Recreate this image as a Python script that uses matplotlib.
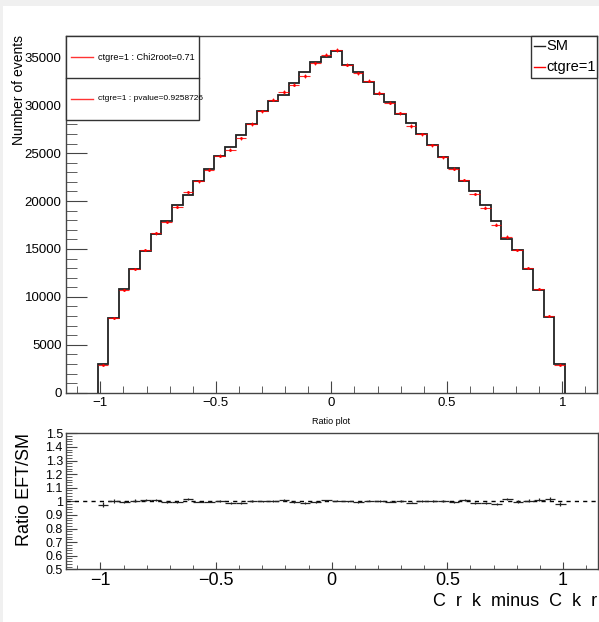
import numpy as np
import matplotlib
matplotlib.use("Agg")
import matplotlib.pyplot as plt
from matplotlib.ticker import MultipleLocator
from matplotlib.patches import Rectangle
from matplotlib.lines import Line2D

plt.rcParams['font.family'] = ['Liberation Sans', 'DejaVu Sans']

# histogram binning: 50 bins on [-1.15, 1.15], only bins 3..46 are filled
n_bins = 50
x_lo, x_hi = -1.15, 1.15
first_bin = 3

# SM counts per filled bin
sm = [3000, 7800, 10800, 12880, 14750, 16520, 17920, 19560, 20600, 22130,
      23320, 24670, 25610, 26900, 28050, 29350, 30480, 31080, 32300, 33450,
      34550, 35050, 35620, 34250, 33500, 32400, 31200, 30320, 29120, 28110,
      26950, 25820, 24560, 23470, 22050, 21000, 19560, 17950, 16020, 14900,
      12950, 10700, 7900, 3000]

# ratio EFT/SM per filled bin
ratio = [0.975, 1.002, 0.995, 1.005, 1.010, 1.007, 0.995, 0.993, 1.015, 0.998,
         0.998, 1.002, 0.990, 0.988, 1.000, 1.000, 1.003, 1.010, 0.995, 0.988,
         0.995, 1.007, 1.005, 1.000, 0.995, 1.005, 1.002, 0.998, 1.002, 0.990,
         1.000, 1.000, 1.000, 0.995, 1.007, 0.988, 0.988, 0.978, 1.017, 0.998,
         1.005, 1.012, 1.017, 0.980]

leg_left = ["ctgre=1 : Chi2root=0.71", "ctgre=1 : pvalue=0.9258726"]
leg_right = ["SM", "ctgre=1"]

sm = np.array(sm, dtype=float)
ratio = np.array(ratio)
eft = sm * ratio

all_edges = np.linspace(x_lo, x_hi, n_bins + 1)
edges = all_edges[first_bin:first_bin + len(sm) + 1]
centers = 0.5 * (edges[1:] + edges[:-1])
half_w = 0.5 * (edges[1] - edges[0])

W, H = 599, 622
fig = plt.figure(figsize=(W / 100, H / 100), dpi=100)
fig.patch.set_facecolor('#f0f0f0')
fig.patches.append(Rectangle((3 / W, 0), 1, (H - 6) / H, transform=fig.transFigure,
                             facecolor='white', edgecolor='none', zorder=-10))


def box(x0, y0, x1, y1):
    # pixel box (y from top) -> figure fraction rect
    return [x0 / W, 1 - y1 / H, (x1 - x0) / W, (y1 - y0) / H]


def fx(x):
    return x / W


def fy(y):
    return 1 - y / H


frame_col = '#444444'
fmt_g = lambda v, p: f"{v:g}".replace('-', '\u2212')

# ---------------- top panel ----------------
ax = fig.add_axes(box(65.7, 36, 597, 392.7))
ax.stairs(sm, edges, color='#222222', lw=1.3, baseline=0, zorder=3)
ax.errorbar(centers, eft, xerr=half_w, yerr=np.sqrt(eft), fmt='none',
            ecolor='red', elinewidth=0.8, alpha=0.85, zorder=4)
ax.plot(centers, eft, ls='none', marker='.', ms=2, color='red', zorder=4)
ax.set_xlim(x_lo, x_hi)
ax.set_ylim(0, 37230)
ax.xaxis.set_major_locator(MultipleLocator(0.5))
ax.xaxis.set_minor_locator(MultipleLocator(0.1))
ax.xaxis.set_major_formatter(fmt_g)
ax.yaxis.set_major_locator(MultipleLocator(5000))
ax.yaxis.set_minor_locator(MultipleLocator(1000))
ax.tick_params(which='both', direction='in', top=False, right=False,
               labelsize=9.5, color=frame_col, pad=3)
ax.tick_params(axis='y', which='major', length=15)
ax.tick_params(axis='y', which='minor', length=8)
ax.tick_params(axis='x', which='major', length=9)
ax.tick_params(axis='x', which='minor', length=5)
for s in ax.spines.values():
    s.set_color(frame_col)
    s.set_linewidth(1)
fig.text(fx(19), fy(35), 'Number of events', fontsize=10, rotation=90,
         ha='center', va='top')

# ---------------- ratio panel ----------------
rx = fig.add_axes(box(65.7, 433.3, 597.7, 569.3))
rx.errorbar(centers, ratio, xerr=half_w, yerr=np.sqrt(eft) / sm, fmt='none',
            ecolor='#222222', elinewidth=0.9, zorder=3)
rx.axhline(1.0, color='black', lw=1, ls=(0, (3, 3)), zorder=2)
rx.set_xlim(x_lo, x_hi)
rx.set_ylim(0.5, 1.5)
rx.xaxis.set_major_locator(MultipleLocator(0.5))
rx.xaxis.set_minor_locator(MultipleLocator(0.1))
rx.xaxis.set_major_formatter(fmt_g)
rx.yaxis.set_major_locator(MultipleLocator(0.1))
rx.yaxis.set_minor_locator(MultipleLocator(0.02))
rx.yaxis.set_major_formatter(fmt_g)
rx.tick_params(which='both', direction='in', top=False, right=False,
               color=frame_col)
rx.tick_params(axis='x', which='major', length=5, labelsize=13, pad=2)
rx.tick_params(axis='x', which='minor', length=3)
rx.tick_params(axis='y', which='major', length=8, labelsize=9, pad=2)
rx.tick_params(axis='y', which='minor', length=4)
for s in rx.spines.values():
    s.set_color(frame_col)
    s.set_linewidth(1)
fig.text(fx(25), fy(490), 'Ratio EFT/SM', fontsize=13, rotation=90,
         ha='center', va='center')
fig.text(fx(597), fy(601), 'C  r  k  minus  C  k  r', fontsize=13,
         ha='right', va='center')
fig.text(fx(312), fy(421), 'Ratio plot', fontsize=6.5, ha='left', va='center')

# ---------------- legends ----------------
# left legend: two rows
fig.patches.append(Rectangle((fx(65.7), fy(120)), fx(199 - 65.7), fy(36) - fy(120),
                             transform=fig.transFigure, facecolor='white',
                             edgecolor='#333333', lw=1, zorder=20))
fig.lines.append(Line2D([fx(65.7), fx(199)], [fy(78), fy(78)],
                        transform=fig.transFigure, color='#333333', lw=1, zorder=21))
for i, txt in enumerate(leg_left):
    yy = 57 + 42 * i
    fig.lines.append(Line2D([fx(71), fx(93)], [fy(yy), fy(yy)], transform=fig.transFigure,
                            color='red', lw=1, alpha=0.8, zorder=21))
    fig.text(fx(98.5), fy(yy), txt, fontsize=6.6 if i == 0 else 6.0,
             ha='left', va='center', zorder=22)

# right legend
fig.patches.append(Rectangle((fx(531), fy(78)), fx(597 - 531), fy(36) - fy(78),
                             transform=fig.transFigure, facecolor='white',
                             edgecolor='#333333', lw=1, zorder=20))
for i, (txt, col) in enumerate(zip(leg_right, ['#222222', 'red'])):
    yy = 46 + 21 * i
    fig.lines.append(Line2D([fx(534), fx(545)], [fy(yy), fy(yy)], transform=fig.transFigure,
                            color=col, lw=1, zorder=21))
    fig.text(fx(546), fy(yy), txt, fontsize=10.5, ha='left', va='center', zorder=22)

fig.savefig('out.png', dpi=100, facecolor=fig.get_facecolor())
